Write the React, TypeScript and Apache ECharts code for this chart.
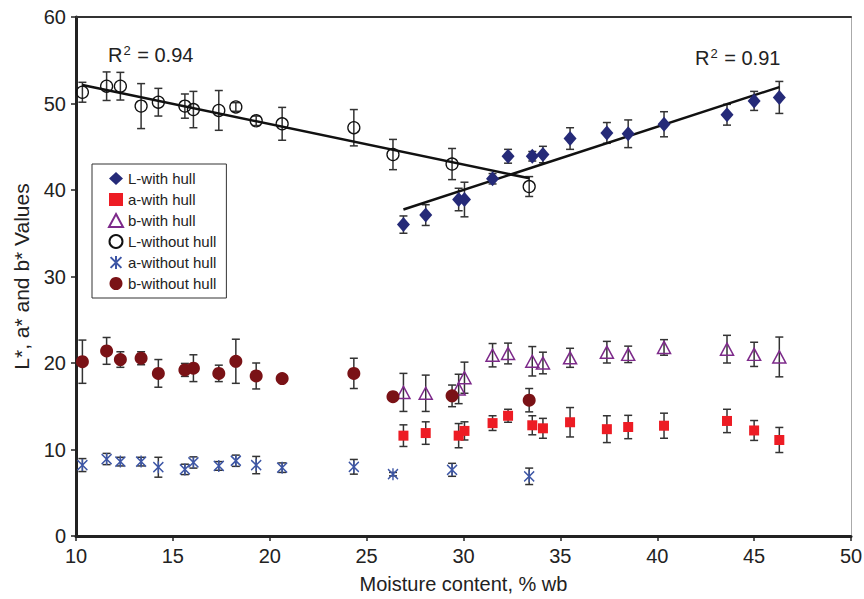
import React, { useEffect, useRef } from "react";
import * as echarts from "echarts";

// Moisture content (% wb) of each sample group
const withHullMC = [26.9, 28.05, 29.75, 30.05, 31.5, 32.3, 33.55, 34.1, 35.5, 37.4, 38.5, 40.35, 43.6, 45.0, 46.3];
const withoutHullMC = [10.33, 11.58, 12.29, 13.36, 14.25, 15.62, 16.06, 17.37, 18.25, 19.3, 20.64, 24.34, 26.36, 29.41, 33.39];

// With hull values and standard deviations
const LWith = [36.0, 37.1, 38.9, 38.9, 41.3, 43.9, 43.9, 44.1, 45.95, 46.6, 46.5, 47.6, 48.7, 50.3, 50.7];
const LWithErr = [1.0, 1.2, 1.3, 2.0, 0.6, 0.8, 0.55, 0.95, 1.25, 1.2, 1.6, 1.45, 1.2, 1.1, 1.85];
const aWith = [11.6, 11.9, 11.6, 12.15, 13.05, 13.9, 12.8, 12.45, 13.15, 12.35, 12.6, 12.75, 13.3, 12.2, 11.1];
const aWithErr = [1.25, 1.3, 1.4, 1.05, 0.85, 0.75, 1.1, 1.15, 1.7, 1.55, 1.35, 1.45, 1.35, 1.15, 1.45];
const bWith = [16.6, 16.5, 17.0, 18.3, 20.9, 21.1, 20.2, 20.0, 20.6, 21.25, 21.0, 21.8, 21.6, 21.0, 20.7];
const bWithErr = [2.2, 2.1, 1.7, 1.8, 1.35, 1.2, 1.7, 1.25, 1.1, 1.25, 0.95, 0.9, 1.6, 1.4, 2.3];

// Without hull values and standard deviations
const LWithout = [51.3, 52.0, 52.0, 49.7, 50.15, 49.7, 49.3, 49.2, 49.6, 48.0, 47.65, 47.2, 44.1, 43.0, 40.4];
const LWithoutErr = [1.15, 1.65, 1.6, 2.6, 1.6, 1.4, 2.1, 2.3, 0.5, 0.55, 1.9, 2.1, 1.75, 1.8, 1.15];
const aWithout = [8.2, 8.9, 8.6, 8.6, 7.95, 7.7, 8.5, 8.1, 8.7, 8.2, 7.9, 8.0, 7.15, 7.65, 6.9];
const aWithoutErr = [0.75, 0.65, 0.5, 0.5, 1.15, 0.6, 0.65, 0.5, 0.65, 1.0, 0.55, 0.85, 0.2, 0.75, 0.95];
const bWithout = [20.15, 21.4, 20.4, 20.55, 18.8, 19.2, 19.4, 18.8, 20.2, 18.5, 18.2, 18.8, 16.1, 16.2, 15.7];
const bWithoutErr = [2.5, 1.55, 0.9, 0.75, 1.6, 0.75, 1.55, 0.95, 2.55, 1.5, 0.2, 1.75, 0.3, 1.25, 1.35];

// Linear trend lines (end points) and their R²
const trendWithoutHull = [[10.33, 52.15], [33.4, 41.35]];
const trendWithHull = [[26.9, 37.75], [46.3, 51.9]];
const r2WithoutHull = "0.94";
const r2WithHull = "0.91";

const seriesNames = ["L-with hull", "a-with hull", "b-with hull", "L-without hull", "a-without hull", "b-without hull"];

const FONT = "'Liberation Sans', Arial, Helvetica, sans-serif";

const pairs = (xs: number[], ys: number[]) => xs.map((x, i) => [x, ys[i]]);
const triples = (xs: number[], ys: number[], es: number[]) => xs.map((x, i) => [x, ys[i], es[i]]);

const asteriskPath = "path://M0,1L10,11M10,1L0,11M5,0L5,12";

export default function App() {
  const ref = useRef<HTMLDivElement>(null);
  useEffect(() => {
    if (!ref.current) return;
    const chart = echarts.init(ref.current, null, { renderer: "svg" });

    const errData = [
      ...triples(withHullMC, LWith, LWithErr),
      ...triples(withHullMC, aWith, aWithErr),
      ...triples(withHullMC, bWith, bWithErr),
      ...triples(withoutHullMC, LWithout, LWithoutErr),
      ...triples(withoutHullMC, aWithout, aWithoutErr),
      ...triples(withoutHullMC, bWithout, bWithoutErr),
    ];

    const r2Rich = {
      r: { fontSize: 20, fontFamily: FONT, fill: "#222" },
      s: { fontSize: 13, fontFamily: FONT, fill: "#222", padding: [0, 1, 9, 1] },
    };

    chart.setOption({
      animation: false,
      backgroundColor: "#fff",
      textStyle: { fontFamily: FONT },
      grid: { left: 76, right: 13, top: 17, bottom: 63, outerBoundsMode: "none" },
      legend: {
        data: seriesNames,
        orient: "vertical",
        left: 92,
        top: 164,
        padding: [7, 10, 7, 16],
        itemGap: 6,
        itemWidth: 14,
        itemHeight: 13,
        borderColor: "#333",
        borderWidth: 1,
        textStyle: { fontSize: 15, lineHeight: 14.5, color: "#222", fontFamily: FONT },
      },
      xAxis: [
        {
          type: "value",
          min: 10,
          max: 50,
          interval: 5,
          name: "Moisture content, % wb",
          nameLocation: "middle",
          nameGap: 38,
          nameTextStyle: { fontSize: 20, color: "#222", fontFamily: FONT },
          axisLine: { show: true, onZero: false, lineStyle: { color: "#222", width: 3 } },
          axisTick: { show: true, length: 5, lineStyle: { color: "#222", width: 1.5 } },
          axisLabel: { fontSize: 20, color: "#222", margin: 10, fontFamily: FONT },
          splitLine: { show: false },
        },
        {
          type: "value",
          position: "top",
          min: 10,
          max: 50,
          axisLine: { show: true, onZero: false, lineStyle: { color: "#333", width: 2 } },
          axisTick: { show: false },
          axisLabel: { show: false },
          splitLine: { show: false },
        },
      ],
      yAxis: [
        {
          type: "value",
          min: 0,
          max: 60,
          interval: 10,
          name: "L*, a* and b* Values",
          nameLocation: "middle",
          nameGap: 44,
          nameTextStyle: { fontSize: 21, color: "#222", fontFamily: FONT },
          axisLine: { show: true, onZero: false, lineStyle: { color: "#222", width: 3 } },
          axisTick: { show: true, length: 5, lineStyle: { color: "#222", width: 1.5 } },
          axisLabel: { fontSize: 20, color: "#222", margin: 10, fontFamily: FONT },
          splitLine: { show: false },
        },
        {
          type: "value",
          position: "right",
          min: 0,
          max: 60,
          axisLine: { show: true, onZero: false, lineStyle: { color: "#aaa", width: 1 } },
          axisTick: { show: false },
          axisLabel: { show: false },
          splitLine: { show: false },
        },
      ],
      graphic: [
        { type: "text", left: 108, top: 44, style: { text: "{r|R}{s|2}{r| = " + r2WithoutHull + "}", rich: r2Rich } },
        { type: "text", left: 695, top: 47, style: { text: "{r|R}{s|2}{r| = " + r2WithHull + "}", rich: r2Rich } },
      ],
      series: [
        {
          name: "errorbars",
          type: "custom",
          z: 1,
          silent: true,
          data: errData,
          encode: { x: 0, y: 1 },
          renderItem: (params: any, api: any) => {
            const x = api.value(0);
            const y = api.value(1);
            const e = api.value(2);
            const top = api.coord([x, y + e]);
            const bot = api.coord([x, y - e]);
            const hw = 4;
            const style = { stroke: "#333", lineWidth: 1.5 };
            return {
              type: "group",
              children: [
                { type: "line", shape: { x1: top[0], y1: top[1], x2: bot[0], y2: bot[1] }, style },
                { type: "line", shape: { x1: top[0] - hw, y1: top[1], x2: top[0] + hw, y2: top[1] }, style },
                { type: "line", shape: { x1: bot[0] - hw, y1: bot[1], x2: bot[0] + hw, y2: bot[1] }, style },
              ],
            };
          },
        },
        {
          name: "trendWithout",
          type: "line",
          z: 3,
          data: trendWithoutHull,
          symbol: "none",
          silent: true,
          lineStyle: { color: "#111", width: 2.5 },
        },
        {
          name: "trendWith",
          type: "line",
          z: 3,
          data: trendWithHull,
          symbol: "none",
          silent: true,
          lineStyle: { color: "#111", width: 2.5 },
        },
        {
          name: seriesNames[0],
          type: "scatter",
          z: 4,
          symbol: "diamond",
          symbolSize: [13, 15],
          itemStyle: { color: "#252a78", opacity: 1 },
          data: pairs(withHullMC, LWith),
        },
        {
          name: seriesNames[1],
          type: "scatter",
          z: 4,
          symbol: "rect",
          symbolSize: 10,
          itemStyle: { color: "#ed1c24", opacity: 1 },
          data: pairs(withHullMC, aWith),
        },
        {
          name: seriesNames[2],
          type: "scatter",
          z: 4,
          symbol: "triangle",
          symbolSize: [13, 12],
          itemStyle: { color: "rgba(255,255,255,0)", borderColor: "#7d2a8a", borderWidth: 1.5, opacity: 1 },
          data: pairs(withHullMC, bWith),
        },
        {
          name: seriesNames[3],
          type: "scatter",
          z: 4,
          symbol: "circle",
          symbolSize: 12,
          itemStyle: { color: "rgba(255,255,255,0)", borderColor: "#111", borderWidth: 1.3, opacity: 1 },
          data: pairs(withoutHullMC, LWithout),
        },
        {
          name: seriesNames[4],
          type: "scatter",
          z: 4,
          symbol: asteriskPath,
          symbolSize: [10, 12],
          itemStyle: { color: "rgba(255,255,255,0)", borderColor: "#3d56a6", borderWidth: 1.5, opacity: 1 },
          data: pairs(withoutHullMC, aWithout),
        },
        {
          name: seriesNames[5],
          type: "scatter",
          z: 4,
          symbol: "circle",
          symbolSize: 13,
          itemStyle: { color: "#7a1216", opacity: 1 },
          data: pairs(withoutHullMC, bWithout),
        },
      ],
    });
    return () => chart.dispose();
  }, []);
  return <div ref={ref} style={{ position: "fixed", left: 0, top: 0, width: 864, height: 599 }} />;
}
